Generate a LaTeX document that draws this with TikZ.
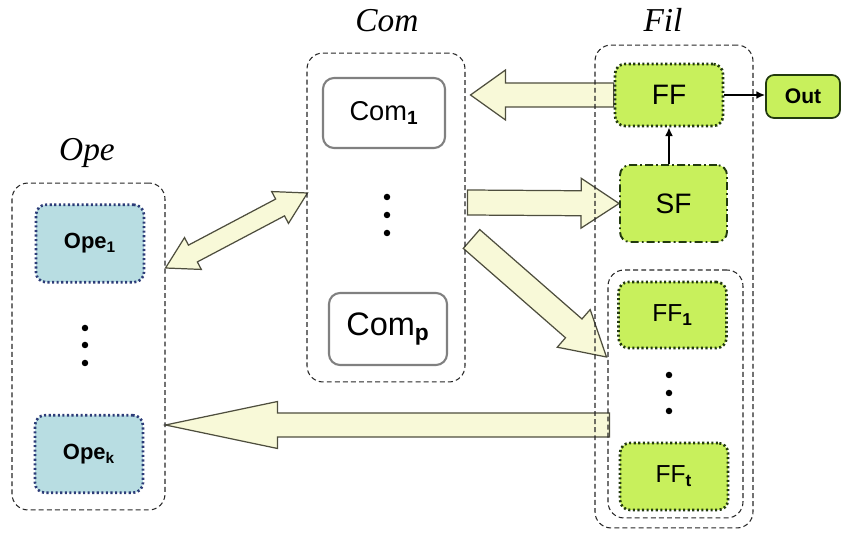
\documentclass[tikz,border=0pt]{standalone}
\usepackage{fontspec}
\setmainfont{Liberation Serif}
\setsansfont{Liberation Sans}
\usetikzlibrary{calc,arrows.meta}
\pgfdeclarelayer{back}
\pgfsetlayers{back,main}
\definecolor{arrfill}{RGB}{248,249,216}
\definecolor{arrline}{RGB}{78,78,62}
\definecolor{opefill}{RGB}{184,221,226}
\definecolor{opeline}{RGB}{44,60,120}
\definecolor{fffill}{RGB}{200,240,92}
\definecolor{ffline}{RGB}{34,58,14}
\definecolor{comline}{RGB}{128,128,128}
% block arrow: tail, tip, half shaft, half head, head length
\newcommand{\bigarrow}[5]{%
\path($(#2)!#5!(#1)$)coordinate(hb);
\draw[bigarr]($(#1)!#3!90:(#2)$)--($(hb)!#3!90:(#2)$)--($(hb)!#4!90:(#2)$)--(#2)
--($(hb)!#4!-90:(#2)$)--($(hb)!#3!-90:(#2)$)--($(#1)!#3!-90:(#2)$)--cycle;}
% block arrow with two heads
\newcommand{\bigdarrow}[5]{%
\path($(#1)!#5!(#2)$)coordinate(ha)($(#2)!#5!(#1)$)coordinate(hb);
\draw[bigarr](#1)--($(ha)!#4!90:(#2)$)--($(ha)!#3!90:(#2)$)--($(hb)!#3!90:(#2)$)--($(hb)!#4!90:(#2)$)--(#2)
--($(hb)!#4!-90:(#2)$)--($(hb)!#3!-90:(#2)$)--($(ha)!#3!-90:(#2)$)--($(ha)!#4!-90:(#2)$)--cycle;}
\begin{document}
\begin{tikzpicture}[x=0.02cm,y=-0.02cm]
\tikzset{grp/.style={draw=black!85,dash pattern=on 2.8pt off 1.8pt,line width=0.6pt,rounded corners=0.32cm,inner sep=0},
ope/.style={draw=opeline,fill=opefill,line width=1.5pt,dash pattern=on 1.2pt off 1.4pt,rounded corners=0.2cm,minimum width=2.16cm,minimum height=1.55cm,font=\sffamily\bfseries\fontsize{12.5}{14}\selectfont},
com/.style={draw=comline,fill=white,line width=1.2pt,rounded corners=0.22cm},
ff/.style={draw=ffline,fill=fffill,line width=1.5pt,dash pattern=on 1.2pt off 1.4pt,rounded corners=0.2cm,minimum width=2.16cm,font=\sffamily\fontsize{14}{16}\selectfont},
ttl/.style={font=\itshape\fontsize{19}{21}\selectfont},
bigarr/.style={fill=arrfill,draw=arrline,line width=0.7pt,line join=miter},
small/.style={-{Latex[length=5pt,width=4.5pt]},line width=0.9pt}}
\useasboundingbox(0,0)rectangle(843,533);
%%containers
\path(88.5,346.5)node[grp,minimum width=3.06cm,minimum height=6.54cm](ope){}
(386,217.5)node[grp,minimum width=3.16cm,minimum height=6.58cm](com){}
(674,286.5)node[grp,minimum width=3.16cm,minimum height=9.66cm](fil){}
(675.5,394)node[grp,minimum width=2.7cm,minimum height=4.96cm](ffs){};
%%titles
\path(87,153)node[ttl](opet){Ope}(387,21)node[ttl](comt){Com}(663,20)node[ttl](filt){Fil};
%%Ope
\path(90,243.5)node[ope](ope1){Ope\textsubscript{1}}
(89,454)node[ope](opek){Ope\textsubscript{k}};
%%Com
\path(384,113)node[com,minimum width=2.44cm,minimum height=1.4cm,font=\sffamily\fontsize{15.5}{17}\selectfont](com1){Com\textsubscript{\bfseries 1}}
(388,329)node[com,minimum width=2.36cm,minimum height=1.44cm,font=\sffamily\fontsize{18.5}{20}\selectfont](comp){Com\textsubscript{\bfseries p}};
%%Fil
\path(669,95)node[ff,minimum height=1.24cm,font=\sffamily\fontsize{16}{18}\selectfont](FF){FF}
(673.5,203.5)node[ff,minimum width=2.14cm,minimum height=1.54cm,dash pattern=on 4.5pt off 1.8pt on 1pt off 1.8pt,line width=1.1pt,font=\sffamily\fontsize{16}{18}\selectfont](SF){SF}
(672.5,315)node[ff,minimum height=1.32cm](FF1){FF\textsubscript{\bfseries 1}}
(674,476.5)node[ff,minimum height=1.34cm](FFt){FF\textsubscript{\bfseries t}}
(803,96.5)node[draw=ffline,fill=fffill,line width=1pt,rounded corners=0.16cm,minimum width=1.48cm,minimum height=0.86cm,font=\sffamily\bfseries\fontsize{12}{14}\selectfont](out){Out};
\foreach \x/\y in {85/328,85/345,85/363,387/197,387/215,387/233,669/375,669/393,669/411}
\fill(\x,\y)circle(0.065cm);
\draw[small](FF.east)--(FF.east-|out.west);
\draw[small](SF.north-|FF.south)--(FF.south);
%%big arrows
\path($(FF.west-|com.east)+(5,0)$)coordinate(a2)
($(SF.west-|com.east)+(2,-1)$)coordinate(a3)
($(com.east)+(6,21.5)$)coordinate(a4)($(ffs.west)+(-1,-37)$)coordinate(b4)
($(ffs.west)+(2,31)$)coordinate(a5)(a5-|ope.east)coordinate(b5)
($(ope.east)+(0,-78.5)$)coordinate(a1)($(com.west)+(1,-24.5)$)coordinate(b1);
\begin{pgfonlayer}{back}
\bigarrow{FF.west}{a2}{0.24cm}{0.5cm}{0.7cm}
\bigarrow{a3}{SF.west}{0.25cm}{0.5cm}{0.76cm}
\bigarrow{a4}{b4}{0.25cm}{0.5cm}{0.87cm}
\bigarrow{a5}{b5}{0.24cm}{0.47cm}{2.24cm}
\bigdarrow{a1}{b1}{0.19cm}{0.36cm}{0.62cm}
\end{pgfonlayer}
\end{tikzpicture}
\end{document}
